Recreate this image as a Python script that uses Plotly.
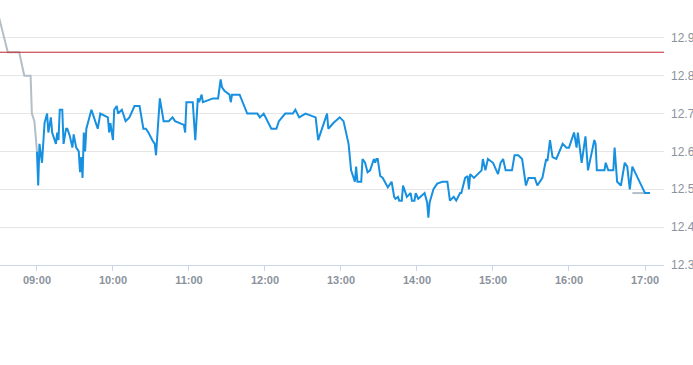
import plotly.graph_objects as go

DAY = "2024-01-02 "

# Main session prices
price_times = [
    "09:00", "09:01", "09:02", "09:04", "09:06", "09:08", "09:09", "09:11", "09:12", "09:15",
    "09:16", "09:17", "09:18", "09:20", "09:21", "09:23", "09:24", "09:26", "09:28", "09:29",
    "09:31", "09:33", "09:34", "09:35", "09:36", "09:37", "09:38", "09:39", "09:41", "09:43",
    "09:45", "09:48", "09:50", "09:56", "09:57", "09:58", "10:00", "10:01", "10:03", "10:04",
    "10:07", "10:10", "10:13", "10:17", "10:21", "10:24", "10:26", "10:28", "10:31", "10:33",
    "10:34", "10:37", "10:40", "10:44", "10:47", "10:49", "10:56", "10:57", "10:58", "11:03",
    "11:05", "11:07", "11:08", "11:10", "11:11", "11:19", "11:23", "11:25", "11:26", "11:28",
    "11:32", "11:33", "11:34", "11:40", "11:46", "11:54", "11:56", "11:59", "12:05", "12:09",
    "12:11", "12:16", "12:22", "12:24", "12:27", "12:32", "12:40", "12:42", "12:49", "12:50",
    "12:54", "12:59", "13:02", "13:06", "13:08", "13:11", "13:12", "13:13", "13:16", "13:17",
    "13:19", "13:21", "13:23", "13:26", "13:27", "13:28", "13:29", "13:31", "13:33", "13:37",
    "13:40", "13:42", "13:43", "13:45", "13:46", "13:48", "13:49", "13:52", "13:55", "13:56",
    "13:58", "13:59", "14:01", "14:06", "14:08", "14:09", "14:10", "14:13", "14:16", "14:20",
    "14:24", "14:26", "14:29", "14:31", "14:34", "14:35", "14:38", "14:40", "14:41", "14:42",
    "14:45", "14:51", "14:52", "14:54", "14:56", "15:00", "15:04", "15:06", "15:08", "15:10",
    "15:15", "15:17", "15:20", "15:23", "15:26", "15:28", "15:33", "15:35", "15:39", "15:42",
    "15:43", "15:45", "15:47", "15:50", "15:55", "15:58", "16:00", "16:03", "16:04", "16:06",
    "16:07", "16:10", "16:13", "16:15", "16:20", "16:21", "16:22", "16:28", "16:29", "16:31",
    "16:35", "16:36", "16:38", "16:41", "16:44", "16:46", "16:48", "16:50", "17:00", "17:04",
]
price_values = [
    12.60, 12.51, 12.62, 12.57, 12.675, 12.70, 12.65, 12.69, 12.65, 12.62,
    12.65, 12.63, 12.71, 12.71, 12.62, 12.66, 12.66, 12.64, 12.61, 12.645,
    12.61, 12.60, 12.545, 12.585, 12.53, 12.65, 12.60, 12.66, 12.685, 12.71,
    12.69, 12.66, 12.70, 12.69, 12.65, 12.675, 12.63, 12.71, 12.72, 12.70,
    12.71, 12.68, 12.69, 12.72, 12.72, 12.66, 12.66, 12.65, 12.63, 12.62,
    12.59, 12.74, 12.68, 12.68, 12.69, 12.68, 12.67, 12.65, 12.73, 12.73,
    12.63, 12.74, 12.73, 12.75, 12.73, 12.74, 12.74, 12.79, 12.77, 12.76,
    12.75, 12.73, 12.75, 12.75, 12.70, 12.70, 12.69, 12.70, 12.66, 12.66,
    12.68, 12.70, 12.70, 12.71, 12.69, 12.70, 12.69, 12.63, 12.70, 12.66,
    12.675, 12.69, 12.68, 12.62, 12.55, 12.52, 12.56, 12.52, 12.52, 12.58,
    12.57, 12.545, 12.55, 12.58, 12.57, 12.58, 12.58, 12.535, 12.53, 12.505,
    12.52, 12.48, 12.475, 12.48, 12.47, 12.47, 12.51, 12.48, 12.49, 12.47,
    12.47, 12.49, 12.475, 12.49, 12.465, 12.425, 12.465, 12.50, 12.515, 12.52,
    12.52, 12.47, 12.48, 12.47, 12.49, 12.49, 12.53, 12.535, 12.50, 12.54,
    12.53, 12.55, 12.58, 12.55, 12.58, 12.57, 12.54, 12.57, 12.58, 12.55,
    12.55, 12.59, 12.59, 12.58, 12.51, 12.53, 12.53, 12.51, 12.53, 12.58,
    12.575, 12.63, 12.585, 12.58, 12.62, 12.61, 12.61, 12.64, 12.65, 12.61,
    12.65, 12.57, 12.64, 12.55, 12.63, 12.62, 12.55, 12.55, 12.57, 12.55,
    12.55, 12.61, 12.52, 12.51, 12.57, 12.56, 12.50, 12.56, 12.49, 12.49,
]

# Pre-market / after-hours (grey)
pre_times = ["08:30", "08:37", "08:46", "08:50", "08:55", "08:56", "08:58", "09:00"]
pre_values = [12.955, 12.862, 12.862, 12.80, 12.80, 12.70, 12.68, 12.60]
post_times = ["16:50", "17:00"]
post_values = [12.49, 12.49]

prev_close = 12.862

y_ticks = [12.3, 12.4, 12.5, 12.6, 12.7, 12.8, 12.9]
x_ticks = ["09:00", "10:00", "11:00", "12:00", "13:00", "14:00", "15:00", "16:00", "17:00"]

def ts(lst):
    return [DAY + t for t in lst]

fig = go.Figure()
fig.add_trace(go.Scatter(x=ts(pre_times), y=pre_values, mode="lines",
                         line=dict(color="#b4bec8", width=2), hoverinfo="skip"))
fig.add_trace(go.Scatter(x=ts(post_times), y=post_values, mode="lines",
                         line=dict(color="#b4bec8", width=2), hoverinfo="skip"))
fig.add_trace(go.Scatter(x=ts(price_times), y=price_values, mode="lines",
                         line=dict(color="#1790e0", width=2)))
fig.add_hline(y=prev_close, line=dict(color="#c0282d", width=1), layer="above")

fig.update_layout(
    width=693, height=365,
    margin=dict(l=0, r=29, t=0, b=100),
    paper_bgcolor="white", plot_bgcolor="white",
    showlegend=False,
    font=dict(family="Liberation Sans, Arial, sans-serif"),
    xaxis=dict(
        type="date",
        automargin=False,
        range=[DAY + "08:30:50", DAY + "17:15:00"],
        tickvals=ts(x_ticks), ticktext=x_ticks,
        showgrid=False, zeroline=False,
        showline=True, linecolor="#ccd6eb", linewidth=1,
        ticks="outside", ticklen=5, tickcolor="#ccd6eb",
        tickfont=dict(size=11, color="#8a929c", family="Liberation Sans, Arial, sans-serif", weight="bold"),
    ),
    yaxis=dict(
        side="right",
        automargin=False,
        range=[12.3, 13.0],
        tickvals=y_ticks, ticktext=[f"{v:.1f}" for v in y_ticks],
        showgrid=True, gridcolor="#e6e6e6", gridwidth=1,
        zeroline=False, showline=False, ticks="",
        ticklabelstandoff=6,
        tickfont=dict(size=12, color="#8a929c"),
    ),
)

fig.write_html("out.html")
